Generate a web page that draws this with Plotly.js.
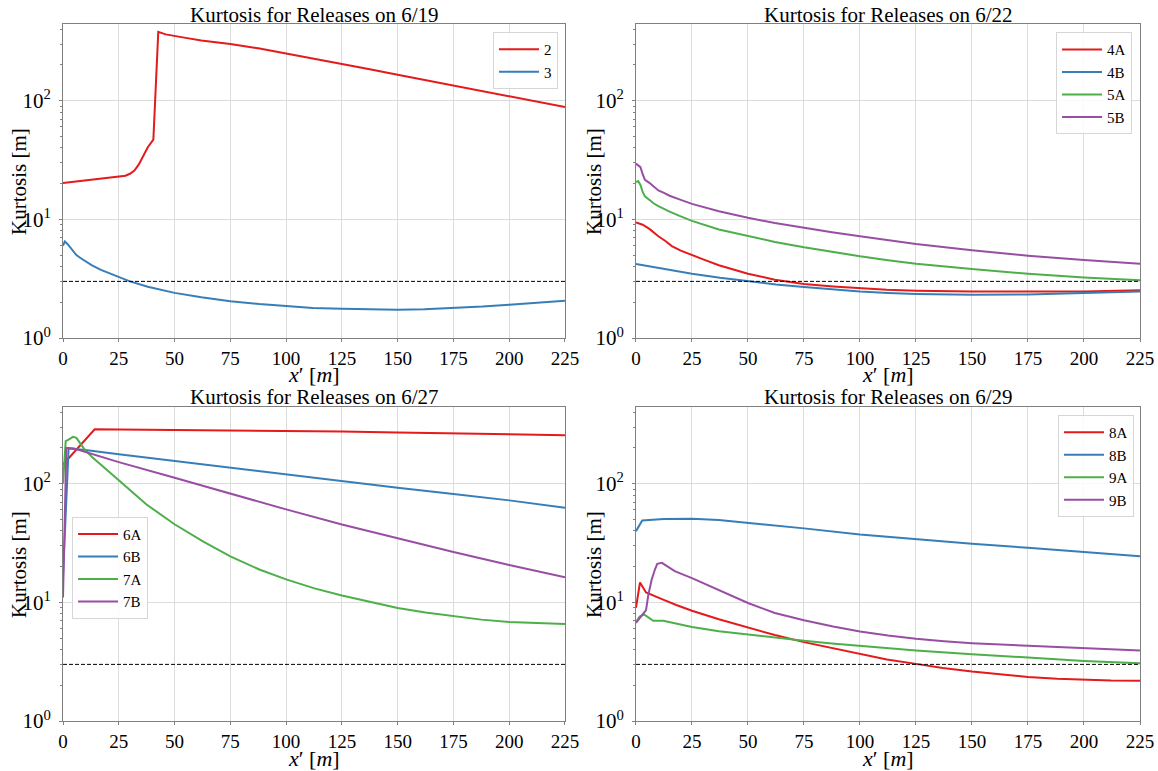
<!DOCTYPE html>
<html><head><meta charset="utf-8">
<script src="https://cdn.plot.ly/plotly-3.0.1.min.js"></script>
<style>html,body{margin:0;padding:0;background:#fff}#chart{width:1158px;height:771px}</style>
</head><body><div id="chart"></div>
<script>
// ---------- Data ----------
var subplotTitles = ["Kurtosis for Releases on 6/19", "Kurtosis for Releases on 6/22",
                     "Kurtosis for Releases on 6/27", "Kurtosis for Releases on 6/29"];
var xTitle = "<i>x</i>\u2032 [<i>m</i>]";
var yTitle = "Kurtosis [m]";
var xTicks = [0, 25, 50, 75, 100, 125, 150, 175, 200, 225];
var yTickVals = [1, 10, 100];
var yTickText = ["10<sup>0</sup>", "10<sup>1</sup>", "10<sup>2</sup>"];
var refX = [0, 225];
var refY = [3, 3];

// 6/19
var names619 = ["2", "3"];
var x_2 = [0, 5, 10, 15, 20, 25, 28, 30, 32, 34, 36, 38, 40.5, 42.7, 46, 50, 55, 62, 75, 87.5, 100, 112.5, 125, 137.5, 150, 162.5, 175, 187.5, 200, 212.5, 225];
var y_2 = [20.2, 20.7, 21.2, 21.7, 22.2, 22.7, 23.3, 24.2, 25.8, 29, 34, 40.5, 47, 380, 362, 349, 338, 322, 300, 276, 250, 226, 204, 184, 165, 149, 134, 121, 109, 98, 88.5];
var x_3 = [0, 0.8, 2, 3, 4, 6, 8, 10, 13, 17, 20, 25, 30, 38, 50, 62, 75, 88, 100, 112, 125, 137, 150, 162, 175, 188, 200, 212, 225];
var y_3 = [6.0, 6.5, 6.2, 5.9, 5.5, 5.0, 4.7, 4.45, 4.1, 3.75, 3.55, 3.27, 3.0, 2.7, 2.4, 2.2, 2.04, 1.93, 1.85, 1.79, 1.76, 1.74, 1.73, 1.75, 1.79, 1.84, 1.91, 1.98, 2.06];

// 6/22
var names622 = ["4A", "4B", "5A", "5B"];
var x_4A = [0, 3, 6, 10, 13, 16, 20, 25, 30, 37, 45, 50, 62, 75, 88, 100, 112, 125, 150, 175, 200, 225];
var y_4A = [9.4, 9.0, 8.3, 7.2, 6.6, 5.95, 5.45, 4.98, 4.6, 4.1, 3.7, 3.48, 3.1, 2.85, 2.72, 2.62, 2.55, 2.5, 2.46, 2.46, 2.47, 2.52];
var x_4B = [0, 12.5, 25, 37.5, 50, 62.5, 75, 87.5, 100, 112.5, 125, 150, 175, 200, 225];
var y_4B = [4.21, 3.83, 3.48, 3.22, 3.0, 2.83, 2.69, 2.56, 2.46, 2.39, 2.35, 2.32, 2.33, 2.39, 2.47];
var x_5A = [0, 1, 2, 3, 4, 6, 8, 10, 12.5, 15, 20, 25, 37, 50, 62, 75, 87.5, 100, 112.5, 125, 150, 175, 200, 225];
var y_5A = [20.6, 21, 19.5, 17, 15.6, 14.5, 13.6, 12.9, 12.2, 11.6, 10.6, 9.7, 8.2, 7.19, 6.45, 5.81, 5.3, 4.88, 4.53, 4.23, 3.81, 3.48, 3.24, 3.06];
var x_5B = [0, 1, 2, 3, 4, 6, 8, 10, 12.5, 15, 20, 25, 37, 50, 62, 75, 87.5, 100, 112.5, 125, 150, 175, 200, 225];
var y_5B = [29.5, 28.5, 27.5, 24, 21.5, 20.3, 19, 17.5, 16.7, 15.8, 14.6, 13.5, 11.7, 10.3, 9.3, 8.45, 7.78, 7.19, 6.67, 6.2, 5.48, 4.94, 4.54, 4.23];

// 6/27
var names627 = ["6A", "6B", "7A", "7B"];
var x_6A = [0, 14.2, 25, 50, 75, 100, 125, 150, 175, 200, 225];
var y_6A = [145, 287, 286, 284, 282, 279, 275, 270, 266, 261, 256];
var x_6B = [0, 2.5, 5, 10, 25, 50, 75, 100, 125, 150, 175, 200, 225];
var y_6B = [16.5, 198, 196, 192, 177, 155, 137, 120, 105, 92.5, 82, 72.3, 62.7];
var x_7A = [0, 1.2, 2.5, 4.5, 6, 7.5, 9.7, 13.4, 17.9, 25, 37.3, 50, 62.7, 75, 88, 100, 112.7, 125, 137.5, 150, 162.5, 175, 187.5, 200, 212.5, 225];
var y_7A = [100, 228, 235, 248, 243, 221, 194, 165, 140, 107, 67, 45.5, 32.6, 24.4, 18.9, 15.6, 13.1, 11.4, 10.1, 8.96, 8.2, 7.62, 7.15, 6.82, 6.65, 6.56];
var x_7B = [0, 1.5, 5, 25, 50, 75, 100, 125, 150, 175, 200, 225];
var y_7B = [11, 200, 198, 152, 112, 82.3, 60.7, 45.3, 34.5, 26.6, 20.6, 16.3];

// 6/29
var names629 = ["8A", "8B", "9A", "9B"];
var x_8A = [0, 1.8, 4.5, 6, 8, 12.4, 18, 25, 37, 50, 62, 75, 88, 100, 112, 125, 137, 150, 162, 175, 188, 200, 212, 225];
var y_8A = [9.0, 14.7, 12.1, 11.8, 11.3, 10.5, 9.5, 8.5, 7.2, 6.1, 5.3, 4.62, 4.1, 3.66, 3.3, 3.03, 2.8, 2.61, 2.47, 2.35, 2.27, 2.22, 2.19, 2.18];
var x_8B = [0, 2.8, 12.4, 25, 37, 50, 62, 75, 100, 125, 150, 175, 200, 225];
var y_8B = [39.8, 49, 50.3, 50.6, 49.3, 46.8, 44.2, 42, 37.3, 33.9, 31.1, 28.8, 26.6, 24.5];
var x_9A = [0, 1.65, 3.6, 5.5, 7.7, 12.2, 15, 25, 37, 50, 62, 75, 87.5, 100, 112.5, 125, 150, 175, 200, 225];
var y_9A = [6.8, 7.6, 7.9, 7.4, 6.98, 6.98, 6.8, 6.2, 5.7, 5.33, 5.0, 4.74, 4.5, 4.30, 4.1, 3.93, 3.66, 3.41, 3.21, 3.07];
var x_9B = [0, 1.65, 4.5, 5.5, 7, 8.5, 9.5, 11.6, 17.3, 25, 37, 50, 62, 75, 88, 100, 112.5, 125, 137.5, 150, 175, 200, 225];
var y_9B = [6.7, 7.4, 8.6, 11.5, 15.5, 19, 21.1, 21.5, 18.3, 16.0, 12.6, 9.87, 8.13, 7.05, 6.25, 5.69, 5.25, 4.93, 4.7, 4.53, 4.30, 4.11, 3.93];

// ---------- Styling ----------
var colors = ["#e41a1c", "#377eb8", "#4daf4a", "#984ea3"];
var FONT = "Liberation Serif";

function line(x, y, name, color, xa, ya, leg) {
  return {type: "scatter", mode: "lines", x: x, y: y, name: name,
    xaxis: xa, yaxis: ya, legend: leg,
    line: {color: color, width: 2}};
}
function ref(xa, ya) {
  return {type: "scatter", mode: "lines", x: refX, y: refY, xaxis: xa, yaxis: ya,
    showlegend: false, hoverinfo: "skip", line: {color: "#000", width: 1, dash: "4px,2px"}};
}

var data = [
  line(x_2, y_2, names619[0], colors[0], "x", "y", "legend"),
  line(x_3, y_3, names619[1], colors[1], "x", "y", "legend"),
  ref("x", "y"),
  line(x_4A, y_4A, names622[0], colors[0], "x2", "y2", "legend2"),
  line(x_4B, y_4B, names622[1], colors[1], "x2", "y2", "legend2"),
  line(x_5A, y_5A, names622[2], colors[2], "x2", "y2", "legend2"),
  line(x_5B, y_5B, names622[3], colors[3], "x2", "y2", "legend2"),
  ref("x2", "y2"),
  line(x_6A, y_6A, names627[0], colors[0], "x3", "y3", "legend3"),
  line(x_6B, y_6B, names627[1], colors[1], "x3", "y3", "legend3"),
  line(x_7A, y_7A, names627[2], colors[2], "x3", "y3", "legend3"),
  line(x_7B, y_7B, names627[3], colors[3], "x3", "y3", "legend3"),
  ref("x3", "y3"),
  line(x_8A, y_8A, names629[0], colors[0], "x4", "y4", "legend4"),
  line(x_8B, y_8B, names629[1], colors[1], "x4", "y4", "legend4"),
  line(x_9A, y_9A, names629[2], colors[2], "x4", "y4", "legend4"),
  line(x_9B, y_9B, names629[3], colors[3], "x4", "y4", "legend4"),
  ref("x4", "y4")
];

var minorVals = [2,3,4,5,6,7,8,9,20,30,40,50,60,70,80,90,200,300,400];

function xax(domain, anchor) {
  return {domain: domain, anchor: anchor, range: [0, 225], tickvals: xTicks,
    showgrid: true, gridcolor: "#dcdcdc", gridwidth: 1, zeroline: false,
    showline: true, mirror: true, linecolor: "#808080", linewidth: 1,
    ticks: "outside", ticklen: 3, tickcolor: "#808080",
    tickfont: {family: FONT, size: 19, color: "#000"},
    title: {text: ""}};
}
function yax(domain, anchor) {
  return {domain: domain, anchor: anchor, type: "log", range: [0, 2.646],
    tickvals: yTickVals, ticktext: yTickText,
    showgrid: true, gridcolor: "#dcdcdc", gridwidth: 1, zeroline: false,
    showline: true, mirror: true, linecolor: "#808080", linewidth: 1,
    ticks: "outside", ticklen: 3, tickcolor: "#808080", ticklabelstandoff: 4,
    minor: {tickvals: minorVals, ticks: "outside", ticklen: 2, tickcolor: "#808080", showgrid: false},
    tickfont: {family: FONT, size: 21, color: "#000"},
    title: {text: ""}};
}
function leg(x, y, xanchor) {
  return {x: x, y: y, xanchor: xanchor, yanchor: "top", xref: "paper", yref: "paper",
    bgcolor: "rgba(255,255,255,0.85)", bordercolor: "#d6d6d6", borderwidth: 1,
    itemwidth: 40, font: {family: FONT, size: 15, color: "#000"}, tracegroupgap: 0};
}

var L = [0, 0.4661], R = [0.532, 1], T = [0.5495, 1], B = [0, 0.4505];
function ann(text, x, y, size, angle) {
  return {text: text, x: x, y: y, xref: "paper", yref: "paper", xanchor: "center", yanchor: "middle",
    showarrow: false, textangle: angle || 0, font: {family: FONT, size: size, color: "#000"}};
}

var layout = {
  width: 1158, height: 771,
  margin: {l: 63, r: 18, t: 24, b: 50},
  paper_bgcolor: "#fff", plot_bgcolor: "#fff",
  font: {family: FONT, color: "#000"},
  xaxis: xax(L, "y"), yaxis: yax(T, "x"),
  xaxis2: xax(R, "y2"), yaxis2: yax(T, "x2"),
  xaxis3: xax(L, "y3"), yaxis3: yax(B, "x3"),
  xaxis4: xax(R, "y4"), yaxis4: yax(B, "x4"),
  legend: leg(0.4596, 0.9885, "right"),
  legend2: leg(0.9926, 0.988, "right"),
  legend3: leg(0.0084, 0.2931, "left"),
  legend4: leg(0.9944, 0.439, "right"),
  annotations: [
    ann(subplotTitles[0], 0.2331, 1.0129, 21),
    ann(subplotTitles[1], 0.766, 1.0129, 21),
    ann(subplotTitles[2], 0.2331, 0.4648, 21),
    ann(subplotTitles[3], 0.766, 0.4648, 21),
    ann(xTitle, 0.2331, 0.4978, 22),
    ann(xTitle, 0.766, 0.4978, 22),
    ann(xTitle, 0.2331, -0.0531, 22),
    ann(xTitle, 0.766, -0.0531, 22),
    ann(yTitle, -0.0409, 0.7747, 21, -90),
    ann(yTitle, 0.4930, 0.7747, 21, -90),
    ann(yTitle, -0.0409, 0.2253, 21, -90),
    ann(yTitle, 0.4930, 0.2253, 21, -90)
  ],
  showlegend: true
};

Plotly.newPlot("chart", data, layout, {staticPlot: true, displayModeBar: false});
</script></body></html>
